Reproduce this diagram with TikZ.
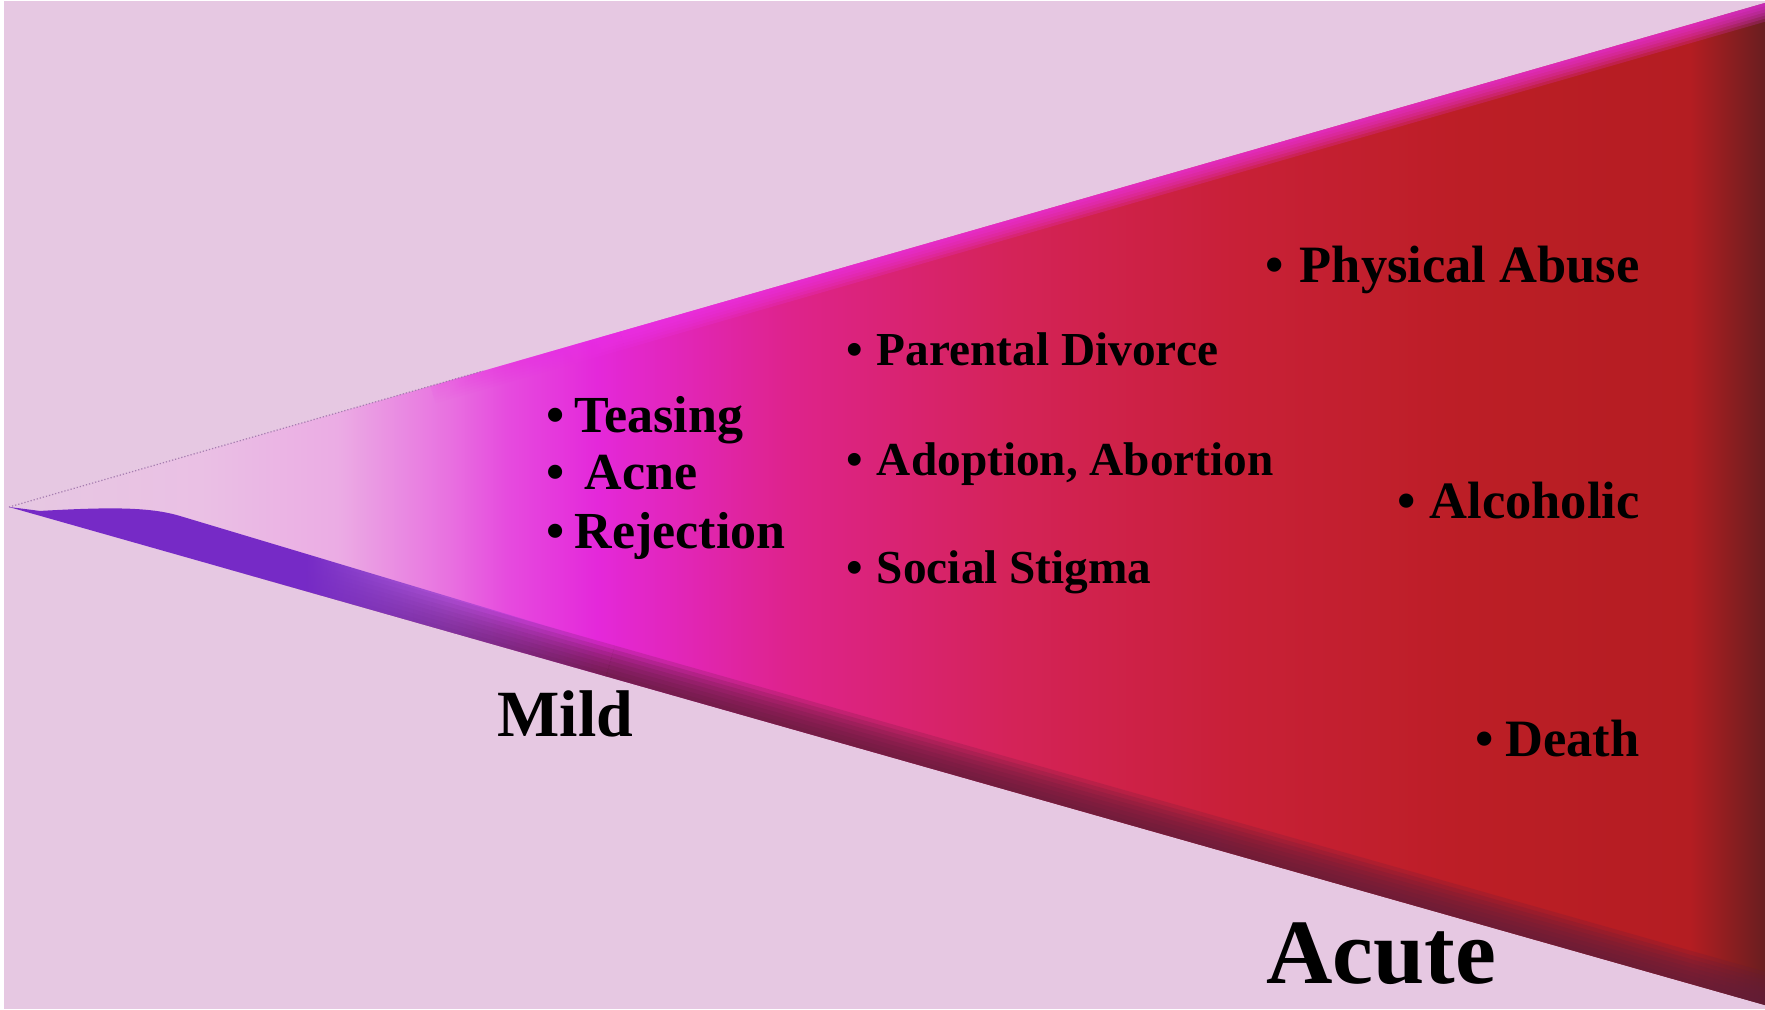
\documentclass[tikz,border=0pt]{standalone}
\usepackage{fontspec}
\setmainfont{Liberation Serif}
\usetikzlibrary{fadings,calc}

\definecolor{bgpink}{RGB}{230,200,226}
\definecolor{wA}{RGB}{234,192,228}
\definecolor{wB}{RGB}{235,172,228}
\definecolor{wC}{RGB}{232,112,224}
\definecolor{wD}{RGB}{230,75,222}
\definecolor{wE}{RGB}{228,40,218}
\definecolor{wF}{RGB}{222,35,140}
\definecolor{wG}{RGB}{212,35,88}
\definecolor{wH}{RGB}{200,32,55}
\definecolor{wI}{RGB}{188,30,38}
\definecolor{wJ}{RGB}{180,29,34}
\definecolor{wK}{RGB}{140,30,32}
\definecolor{wL}{RGB}{105,30,32}
\definecolor{bandpurple}{RGB}{118,42,198}
\definecolor{rimdark}{RGB}{98,28,58}
\definecolor{glow}{RGB}{236,48,232}

% colour runs from mild (left) to acute (right)
\pgfdeclarehorizontalshading{wedge}{100bp}{color(0bp)=(bgpink); color(25bp)=(bgpink);
  color(30.44bp)=(wA); color(34.37bp)=(wB); color(37.56bp)=(wC); color(39.18bp)=(wD);
  color(41.74bp)=(wE); color(47.18bp)=(wF); color(53.59bp)=(wG); color(59.99bp)=(wH);
  color(66.43bp)=(wI); color(72.86bp)=(wJ); color(74bp)=(wK); color(75bp)=(wL); color(100bp)=(wL)}

\tikzfading[name=bandfade, left color=transparent!0, right color=transparent!100, middle color=transparent!0]

\newcommand\blt[2]{\textbullet\hspace{#1}#2}

\begin{document}
\begin{tikzpicture}[x=0.5pt,y=-0.5pt,
    colA/.style={inner sep=0pt, anchor=base west, font=\fontsize{26pt}{30pt}\selectfont\bfseries},
    colB/.style={inner sep=0pt, anchor=base west, font=\fontsize{23.65pt}{28pt}\selectfont\bfseries},
    colC/.style={inner sep=0pt, anchor=base east, font=\fontsize{26.25pt}{30pt}\selectfont\bfseries},
    endlbl/.style={inner sep=0pt, anchor=base west}]
  \useasboundingbox (0,0) rectangle (1765,1009);
  \fill[white] (0,0) rectangle (1765,1009);
  \fill[bgpink] (4,1) rectangle (1765,1009);

  \coordinate (apex) at (9,507);
  \coordinate (tr) at (1765,3);
  \coordinate (br) at (1765,1005);

  \shade[shading=wedge] (apex) -- (tr) -- (br) -- cycle;
  \draw[densely dotted, color={rgb,255:red,165;green,125;blue,175}, line width=0.6pt]
    (apex) -- ($(apex)!0.27!(tr)$);

  \begin{scope}
    \clip (apex) -- (tr) -- (br) -- cycle;
    % dark lower rim, fading in from the tip
    \foreach \w in {8,16,...,64} {
      \draw[rimdark, opacity=0.2, line width=\w*0.5pt, path fading=west]
        ($(apex)!0.12!(br)$) -- ($(apex)!0.34!(br)$);
      \draw[rimdark, opacity=0.2, line width=\w*0.5pt] ($(apex)!0.34!(br)$) -- (br);
    }
    % purple band near the tip
    \fill[bandpurple, path fading=bandfade] (apex) -- (40,511) .. controls (110,507) and (150,507) .. (180,516)
      -- (600,642) -- (600,710) -- (9,520) -- cycle;
    % bright upper rim
    \foreach \w in {6,12,...,36} {
      \draw[glow, opacity=0.2, line width=\w*0.5pt, path fading=west]
        ($(apex)!0.24!(tr)$) -- ($(apex)!0.348!(tr)$);
      \draw[glow, opacity=0.2, line width=\w*0.5pt] ($(apex)!0.348!(tr)$) -- (tr);
    }
  \end{scope}

  \node[colA] (teasing) at (546,432) {\blt{5pt}{Teasing}};
  \node[colA] (acne) at (546,489) {\blt{10pt}{Acne}};
  \node[colA] (rejection) at (546,548) {\blt{5pt}{Rejection}};

  \node[colB] (divorce) at (846,365) {\blt{7pt}{Parental Divorce}};
  \node[colB] (adoption) at (846,475) {\blt{7pt}{Adoption, Abortion}};
  \node[colB] (stigma) at (846,583) {\blt{7pt}{Social Stigma}};

  \node[colC] (abuse) at (1640,282) {\blt{8pt}{Physical Abuse}};
  \node[colC] (alcoholic) at (1640,518) {\blt{7pt}{Alcoholic}};
  \node[colC] (death) at (1640,756) {\blt{6pt}{Death}};

  \node[endlbl, font=\fontsize{33pt}{38pt}\selectfont\bfseries] (mild) at (497,736) {Mild};
  \node[endlbl, font=\fontsize{46pt}{52pt}\selectfont\bfseries] (acute) at (1266,983) {Acute};
\end{tikzpicture}
\end{document}
